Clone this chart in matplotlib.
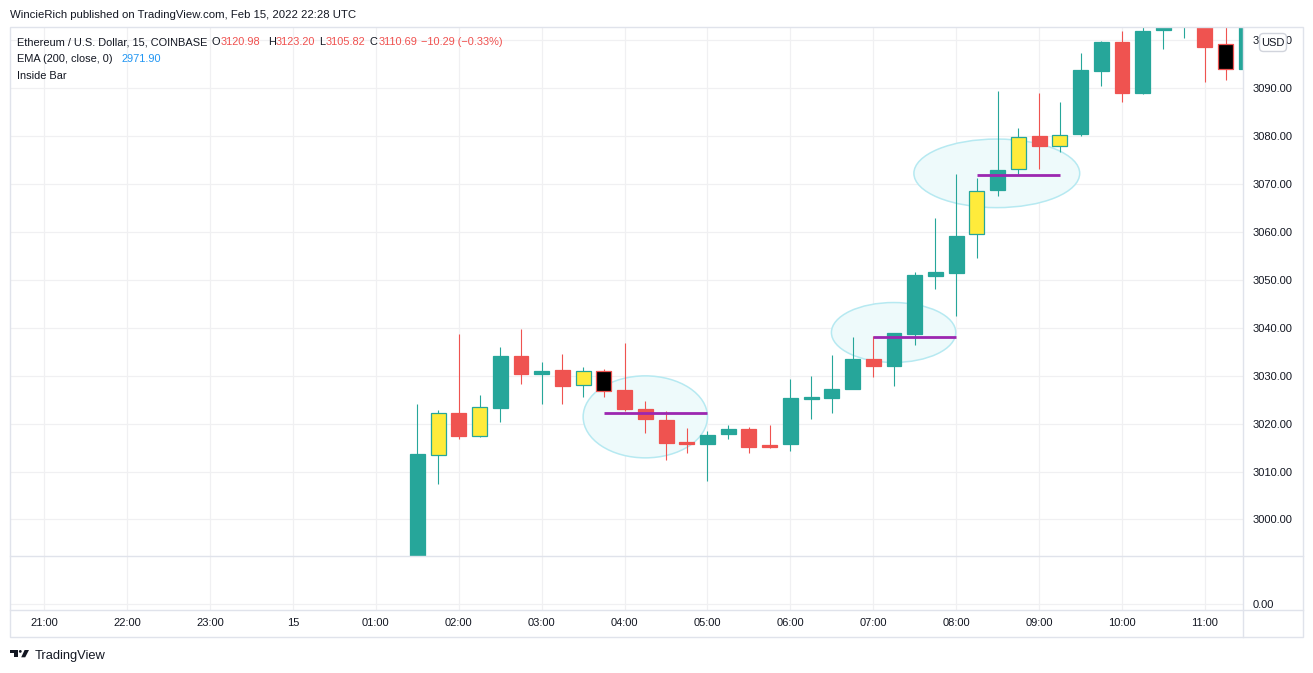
import numpy as np
import matplotlib.pyplot as plt
from matplotlib.patches import Rectangle, Ellipse, FancyBboxPatch, Polygon, Circle

plt.rcParams['font.family'] = ['Liberation Sans', 'DejaVu Sans']

# 15-minute candles, time in hours from Feb 15 00:00
times = [1.50, 1.75, 2.00, 2.25, 2.50, 2.75, 3.00, 3.25, 3.50, 3.75,
         4.00, 4.25, 4.50, 4.75, 5.00, 5.25, 5.50, 5.75, 6.00, 6.25,
         6.50, 6.75, 7.00, 7.25, 7.50, 7.75, 8.00, 8.25, 8.50, 8.75,
         9.00, 9.25, 9.50, 9.75, 10.00, 10.25, 10.50, 10.75, 11.00, 11.25, 11.50]
opens = [2988.0, 3013.5, 3022.3, 3017.4, 3023.2, 3034.0, 3030.3, 3031.1, 3028.1, 3031.0,
         3027.1, 3023.0, 3020.7, 3016.1, 3015.7, 3017.8, 3018.8, 3015.5, 3015.7, 3025.1,
         3025.3, 3027.2, 3033.4, 3032.0, 3038.7, 3050.8, 3051.4, 3059.6, 3068.7, 3073.2,
         3080.0, 3078.0, 3080.4, 3093.6, 3099.6, 3089.0, 3102.0, 3104.0, 3104.5, 3099.1, 3093.9]
highs = [3024.0, 3022.8, 3038.6, 3025.9, 3035.9, 3039.7, 3032.8, 3034.5, 3031.7, 3031.3,
         3036.9, 3024.8, 3022.6, 3019.0, 3018.4, 3019.6, 3019.2, 3019.6, 3029.2, 3029.9,
         3034.4, 3038.0, 3038.3, 3038.8, 3051.6, 3062.8, 3072.0, 3071.3, 3089.4, 3081.7,
         3089.0, 3087.1, 3097.3, 3099.9, 3101.8, 3104.5, 3105.0, 3108.0, 3106.0, 3104.5, 3108.0]
lows = [2988.0, 3007.4, 3016.8, 3017.2, 3020.3, 3028.2, 3024.1, 3024.1, 3025.5, 3025.5,
        3022.7, 3018.0, 3012.4, 3013.8, 3008.0, 3016.8, 3013.8, 3014.9, 3014.2, 3020.9,
        3022.3, 3027.2, 3029.7, 3027.8, 3036.4, 3048.1, 3042.4, 3054.6, 3067.5, 3072.0,
        3073.1, 3076.7, 3080.0, 3090.5, 3087.0, 3088.7, 3098.2, 3100.5, 3091.2, 3091.6, 3093.9]
closes = [3013.6, 3022.3, 3017.4, 3023.5, 3034.0, 3030.3, 3030.9, 3027.8, 3031.0, 3026.9,
          3023.0, 3020.9, 3015.9, 3015.7, 3017.7, 3018.8, 3015.2, 3015.2, 3025.3, 3025.5,
          3027.3, 3033.4, 3032.0, 3038.8, 3050.9, 3051.6, 3059.1, 3068.6, 3072.9, 3079.7,
          3077.9, 3080.3, 3093.7, 3099.6, 3089.0, 3101.8, 3103.8, 3106.0, 3098.6, 3093.9, 3106.0]
# Inside Bar indicator bar colouring ("" = normal candle)
marks = ["", "yellow", "", "yellow", "", "", "", "", "yellow", "black",
         "", "", "", "", "", "", "", "", "", "",
         "", "", "", "", "", "", "", "yellow", "", "yellow",
         "", "yellow", "", "", "", "", "", "", "", "black", ""]

# Inside Bar levels and highlight ellipses
ib_start = [3.75, 7.00, 8.25]
ib_end = [5.00, 8.00, 9.25]
ib_level = [3022.3, 3038.1, 3071.8]
ell_x = [4.25, 7.245, 8.49]
ell_y = [3021.4, 3039.0, 3072.2]
ell_w = [1.50, 1.50, 2.00]
ell_h = [17.1, 12.5, 14.3]

hour_ticks = list(range(-3, 12))
hour_labels = ["21:00", "22:00", "23:00", "15", "01:00", "02:00", "03:00", "04:00",
               "05:00", "06:00", "07:00", "08:00", "09:00", "10:00", "11:00"]
price_ticks = list(range(3000, 3101, 10))

# legend values of the last bar
ohlc_keys = ["O", "H", "L", "C"]
ohlc_vals = ["3120.98", "3123.20", "3105.82", "3110.69"]
change_txt = "\u221210.29 (\u22120.33%)"
ema_val = "2971.90"

GREEN, RED = "#26a69a", "#ef5350"
MARK_COLORS = {"yellow": "#ffeb3b", "black": "#000000"}
TXT, GRID, BORDER = "#131722", "#f0f0f2", "#e0e3eb"

W, H = 1313, 673
fig = plt.figure(figsize=(W / 100, H / 100), dpi=100)
fig.patch.set_facecolor("white")

def px_axes(x0, y0, x1, y1, **kw):
    return fig.add_axes([x0 / W, 1 - y1 / H, (x1 - x0) / W, (y1 - y0) / H], **kw)

ax = px_axes(10, 27, 1243, 555.5)
ax2 = px_axes(10, 555.5, 1243, 610, sharex=ax)

o, h, l, c = map(np.array, (opens, highs, lows, closes))
up = c >= o
dir_col = np.where(up, GREEN, RED)
fills = [MARK_COLORS[m] if m else d for m, d in zip(marks, dir_col)]
bottoms = np.minimum(o, c)
heights = np.maximum(np.abs(c - o), 0.25)

ax.vlines(times, l, h, colors=dir_col, linewidth=0.8, zorder=3)
ax.bar(times, heights, bottom=bottoms, width=0.18, color=fills,
       edgecolor=dir_col, linewidth=0.9, zorder=4)

for x, y, w, hh in zip(ell_x, ell_y, ell_w, ell_h):
    ax.add_patch(Ellipse((x, y), w, hh, facecolor="#eefafb", edgecolor="#b6e9f1",
                         linewidth=1.1, zorder=2))
for x0, x1, y in zip(ib_start, ib_end, ib_level):
    ax.hlines(y, x0, x1, colors="#9c27b0", linewidth=2.0, zorder=5)

for a in (ax, ax2):
    for s in a.spines.values():
        s.set_visible(False)
    a.set_axisbelow(True)
    a.grid(True, color=GRID, linewidth=0.9)
    a.yaxis.tick_right()
    a.tick_params(length=0, labelsize=8, labelcolor=TXT, pad=7.2)

ax.set_xlim(-3.414, 11.46)
ax.set_ylim(2992.48, 3102.73)
ax.set_yticks(price_ticks)
ax.set_yticklabels([f"{p:.2f}" for p in price_ticks])
ax.set_xticks(hour_ticks)
ax.tick_params(labelbottom=False)

ax2.set_ylim(-0.118, 0.882)
ax2.set_yticks([0])
ax2.set_yticklabels(["0.00"])
ax2.set_xticks(hour_ticks)
ax2.set_xticklabels(hour_labels)
ax2.tick_params(axis="x", pad=5.5)

# overlay in pixel coordinates for frame, legend and footer
ov = fig.add_axes([0, 0, 1, 1])
ov.set_xlim(0, W)
ov.set_ylim(H, 0)
ov.axis("off")

ov.add_patch(Rectangle((10, 26.5), 1293, 610.5, fill=False, edgecolor=BORDER, linewidth=1))
ov.plot([1243, 1243], [26.5, 637], color=BORDER, linewidth=1)
ov.plot([10, 1303], [555.5, 555.5], color=BORDER, linewidth=1)
ov.plot([10, 1303], [610, 610], color=BORDER, linewidth=1)

ov.add_patch(FancyBboxPatch((1259.5, 33.5), 27, 18, boxstyle="round,pad=0,rounding_size=4",
                            facecolor="white", edgecolor="#d1d4dc", linewidth=1))
ov.text(1273, 42.8, "USD", ha="center", va="center", fontsize=8, color=TXT)

ov.text(10, 15, "WincieRich published on TradingView.com, Feb 15, 2022 22:28 UTC",
        fontsize=8.2, color=TXT, va="center")

red_txt = "#f0514f"
fs = 7.9
ov.text(16.7, 42.3, "Ethereum / U.S. Dollar, 15, COINBASE", fontsize=fs, color=TXT, va="center")
for x, k, v in zip([212, 267.7, 319, 370], ohlc_keys, ohlc_vals):
    key = ov.text(x, 42.3, k, fontsize=fs, color=TXT, va="center")
    ov.annotate(v, xy=(1, 0.5), xycoords=key, xytext=(0.3, 0), textcoords="offset points",
                fontsize=fs, color=red_txt, va="center", ha="left")
ov.text(421, 42.3, change_txt, fontsize=fs, color=red_txt, va="center")
ov.text(16.7, 59, "EMA (200, close, 0)", fontsize=fs, color=TXT, va="center")
ov.text(121.7, 59, ema_val, fontsize=fs, color="#2196f3", va="center")
ov.text(16.7, 76, "Inside Bar", fontsize=fs, color=TXT, va="center")

# TradingView logo
ov.add_patch(Polygon([(10, 650), (17.7, 650), (17.7, 657.3), (14.3, 657.3), (14.3, 652.8), (10, 652.8)],
                     closed=True, facecolor=TXT, edgecolor="none"))
ov.add_patch(Circle((20.3, 651.4), 1.4, facecolor=TXT, edgecolor="none"))
ov.add_patch(Polygon([(24.6, 650), (29, 650), (25.2, 657.3), (21.2, 657.3)],
                     closed=True, facecolor=TXT, edgecolor="none"))
ov.text(34.3, 655.5, "TradingView", fontsize=9.3, color=TXT, va="center")

fig.savefig("out.png", dpi=100)
